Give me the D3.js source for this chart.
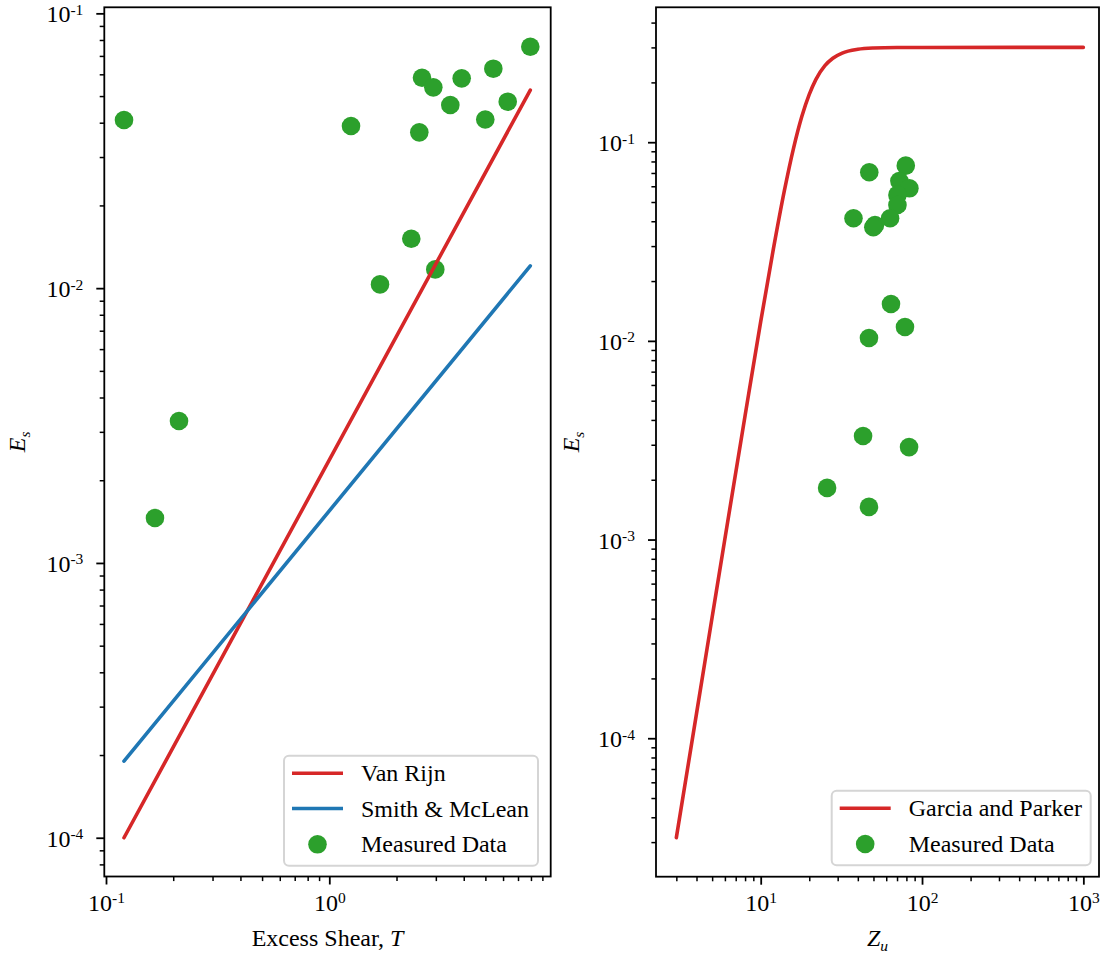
<!DOCTYPE html>
<html><head><meta charset="utf-8">
<script src="https://cdn.jsdelivr.net/npm/d3@7"></script>
<style>
body{margin:0;background:#fff}
svg text{font-family:"Liberation Serif","Times New Roman",Times,"Nimbus Roman","DejaVu Serif","Noto Serif",serif !important;fill:#000}
</style>
</head><body>
<svg id="chart" width="1105" height="956" font-family="Liberation Serif, Times New Roman, serif"></svg>
<script>
// ---------- data ----------
// Left panel: measured entrainment vs excess shear
const shearT = [0.1204, 0.1657, 0.2123, 1.251, 1.687, 2.329, 2.530, 2.601, 2.923, 2.983, 3.483, 3.916, 4.995, 5.427, 6.295, 7.946];
const shearE = [0.0409, 0.001457, 0.003285, 0.0389, 0.01032, 0.01513, 0.0369, 0.0583, 0.0538, 0.0117, 0.0464, 0.0580, 0.0411, 0.0629, 0.0477, 0.0756];
// Model lines (straight on log-log axes)
const vanRijnT = [0.1204, 7.946];
const vanRijnE = [1.0e-4, 0.0526];
const smithT = [0.1204, 7.946];
const smithE = [1.90e-4, 0.01206];
// Right panel: measured entrainment vs Z_u
const zuZ = [47.1, 79.3, 72.4, 83.5, 70.4, 70.4, 63.4, 37.6, 51.1, 49.9, 64.2, 78.4, 46.9, 43.1, 83.1, 25.8, 46.9];
const zuE = [0.0706, 0.0762, 0.0638, 0.0586, 0.0543, 0.0483, 0.0414, 0.0414, 0.0383, 0.0373, 0.01534, 0.01175, 0.01034, 0.00332, 0.00292, 0.00182, 0.00146];
// Garcia and Parker curve
const garciaZ = [3, 4, 5, 6, 8, 10, 12, 14, 16, 18, 20, 22, 25, 28, 32, 40, 50, 70, 100, 1000];
const garciaE = [3.16e-5, 1.33e-4, 4.06e-4, 1.01e-3, 4.2e-3, 0.0125, 0.0292, 0.0567, 0.0937, 0.135, 0.174, 0.2072, 0.2427, 0.2645, 0.2807, 0.2934, 0.2978, 0.2996, 0.2999, 0.3];
// Legend labels
const leftLegend = ["Van Rijn", "Smith & McLean", "Measured Data"];
const rightLegend = ["Garcia and Parker", "Measured Data"];

// ---------- styling / layout ----------
const RED = "#d62728", BLUE = "#1f77b4", GREEN = "#2ca02c";
const FS = 24, SUP = 15.5;
const SERIF = "Liberation Serif, Times New Roman, Times, serif";
const svg = d3.select("#chart");

const panels = [
  {x0:104.3, x1:550.7, y0:7.3, y1:876.5,
   xd:[Math.pow(10,-1.0076), Math.pow(10,0.9915)], yd:[Math.pow(10,-4.141), Math.pow(10,-0.978)]},
  {x0:656, x1:1099, y0:7.3, y1:876.7,
   xd:[Math.pow(10,0.351), Math.pow(10,3.097)], yd:[Math.pow(10,-4.697), Math.pow(10,-0.321)]}
];

function logTicks(dom){
  const lo = Math.floor(Math.log10(dom[0])), hi = Math.ceil(Math.log10(dom[1]));
  const major=[], minor=[];
  for(let e=lo;e<=hi;e++){
    const p=Math.pow(10,e);
    if(p>=dom[0]*0.9999 && p<=dom[1]*1.0001) major.push(p);
    for(let k=2;k<10;k++){const v=k*p; if(v>=dom[0] && v<=dom[1]) minor.push(v);}
  }
  return {major, minor};
}
function expLabel(sel, v){
  const e = Math.round(Math.log10(v));
  sel.each(function(){
    const t=d3.select(this); t.text(null);
    t.append("tspan").text("10");
    t.append("tspan").attr("dy",-7.5).attr("font-size",SUP).text(e<0? "-"+(-e) : String(e));
  });
}

function drawPanel(P){
  const x = d3.scaleLog().domain(P.xd).range([P.x0,P.x1]);
  const y = d3.scaleLog().domain(P.yd).range([P.y1,P.y0]);
  const g = svg.append("g");
  const xt = logTicks(P.xd), yt = logTicks(P.yd);
  const fix = s=>{s.attr("font-family",SERIF); s.select(".domain").remove();};
  // minor ticks
  g.append("g").attr("transform",`translate(0,${P.y1})`)
    .call(d3.axisBottom(x).tickValues(xt.minor).tickSize(4.6).tickFormat(""))
    .call(s=>{fix(s); s.selectAll("line").attr("stroke","#000").attr("stroke-width",1.5);});
  g.append("g").attr("transform",`translate(${P.x0},0)`)
    .call(d3.axisLeft(y).tickValues(yt.minor).tickSize(4.6).tickFormat(""))
    .call(s=>{fix(s); s.selectAll("line").attr("stroke","#000").attr("stroke-width",1.5);});
  // major ticks
  g.append("g").attr("transform",`translate(0,${P.y1})`)
    .call(d3.axisBottom(x).tickValues(xt.major).tickSize(8).tickPadding(6))
    .call(s=>{fix(s); s.selectAll("line").attr("stroke","#000").attr("stroke-width",1.8);
      s.selectAll("text").attr("font-size",FS).attr("dy",null).attr("y",34).attr("fill","#000")
        .each(function(d){expLabel(d3.select(this), d);});});
  g.append("g").attr("transform",`translate(${P.x0},0)`)
    .call(d3.axisLeft(y).tickValues(yt.major).tickSize(8).tickPadding(6))
    .call(s=>{fix(s); s.selectAll("line").attr("stroke","#000").attr("stroke-width",1.8);
      s.selectAll("text").attr("font-size",FS).attr("dy",null).attr("y",8.5).attr("x",-21).attr("fill","#000")
        .each(function(d){expLabel(d3.select(this), d);});});
  return {x,y,g};
}

function frame(P){
  svg.append("rect").attr("x",P.x0).attr("y",P.y0).attr("width",P.x1-P.x0).attr("height",P.y1-P.y0)
    .attr("fill","none").attr("stroke","#000").attr("stroke-width",1.8);
}

function legend(x0,y0,w,h,items){
  const g = svg.append("g");
  g.append("rect").attr("x",x0).attr("y",y0).attr("width",w).attr("height",h).attr("rx",5)
    .attr("fill","#fff").attr("fill-opacity",0.8).attr("stroke","#d5d5d5").attr("stroke-width",2);
  items.forEach((it,i)=>{
    const cy = y0+17.5+i*35.3;
    if(it.type==="line"){
      g.append("line").attr("x1",x0+8).attr("x2",x0+59).attr("y1",cy).attr("y2",cy)
        .attr("stroke",it.color).attr("stroke-width",3.6);
    } else {
      g.append("circle").attr("cx",x0+33.5).attr("cy",cy+0.5).attr("r",9.3).attr("fill",it.color);
    }
    g.append("text").attr("x",x0+77).attr("y",cy+8).attr("font-size",FS).text(it.label);
  });
}

// ---------- left panel ----------
const L = drawPanel(panels[0]);
svg.append("clipPath").attr("id","clipL").append("rect")
  .attr("x",panels[0].x0).attr("y",panels[0].y0).attr("width",panels[0].x1-panels[0].x0).attr("height",panels[0].y1-panels[0].y0);
const gl = svg.append("g").attr("clip-path","url(#clipL)");
gl.selectAll("circle").data(d3.zip(shearT,shearE)).join("circle")
  .attr("cx",d=>L.x(d[0])).attr("cy",d=>L.y(d[1])).attr("r",9.3).attr("fill",GREEN);
const lineL = d3.line().x(d=>L.x(d[0])).y(d=>L.y(d[1]));
gl.append("path").attr("d",lineL(d3.zip(vanRijnT,vanRijnE))).attr("fill","none")
  .attr("stroke",RED).attr("stroke-width",3.6).attr("stroke-linecap","round");
gl.append("path").attr("d",lineL(d3.zip(smithT,smithE))).attr("fill","none")
  .attr("stroke",BLUE).attr("stroke-width",3.6).attr("stroke-linecap","round");
frame(panels[0]);
legend(284,755.7,254,110,[
  {type:"line",color:RED,label:leftLegend[0]},
  {type:"line",color:BLUE,label:leftLegend[1]},
  {type:"dot",color:GREEN,label:leftLegend[2]}]);

// ---------- right panel ----------
const R = drawPanel(panels[1]);
svg.append("clipPath").attr("id","clipR").append("rect")
  .attr("x",panels[1].x0).attr("y",panels[1].y0).attr("width",panels[1].x1-panels[1].x0).attr("height",panels[1].y1-panels[1].y0);
const gr = svg.append("g").attr("clip-path","url(#clipR)");
gr.selectAll("circle").data(d3.zip(zuZ,zuE)).join("circle")
  .attr("cx",d=>R.x(d[0])).attr("cy",d=>R.y(d[1])).attr("r",9.3).attr("fill",GREEN);
const lineR = d3.line().x(d=>R.x(d[0])).y(d=>R.y(d[1])).curve(d3.curveMonotoneX);
gr.append("path").attr("d",lineR(d3.zip(garciaZ,garciaE))).attr("fill","none")
  .attr("stroke",RED).attr("stroke-width",3.6).attr("stroke-linecap","round");
frame(panels[1]);
legend(831.7,790.7,259,74.5,[
  {type:"line",color:RED,label:rightLegend[0]},
  {type:"dot",color:GREEN,label:rightLegend[1]}]);

// ---------- axis labels ----------
function xLabel(cx, parts){
  const t = svg.append("text").attr("x",cx).attr("y",946).attr("text-anchor","middle").attr("font-size",FS);
  parts.forEach(p=>{const s=t.append("tspan").text(p.t); if(p.i) s.attr("font-style","italic"); if(p.sub) s.attr("font-size",SUP).attr("dy",5);});
}
function yLabel(cx, cy){
  const t = svg.append("text").attr("transform",`translate(${cx},${cy}) rotate(-90)`).attr("text-anchor","middle").attr("font-size",FS);
  t.append("tspan").attr("font-style","italic").text("E");
  t.append("tspan").attr("font-style","italic").attr("font-size",SUP).attr("dy",5).text("s");
}
xLabel((panels[0].x0+panels[0].x1)/2, [{t:"Excess Shear, "},{t:"T",i:true}]);
xLabel((panels[1].x0+panels[1].x1)/2, [{t:"Z",i:true},{t:"u",i:true,sub:true}]);
yLabel(25, (panels[0].y0+panels[0].y1)/2);
yLabel(579, (panels[1].y0+panels[1].y1)/2);
</script>
</body></html>
